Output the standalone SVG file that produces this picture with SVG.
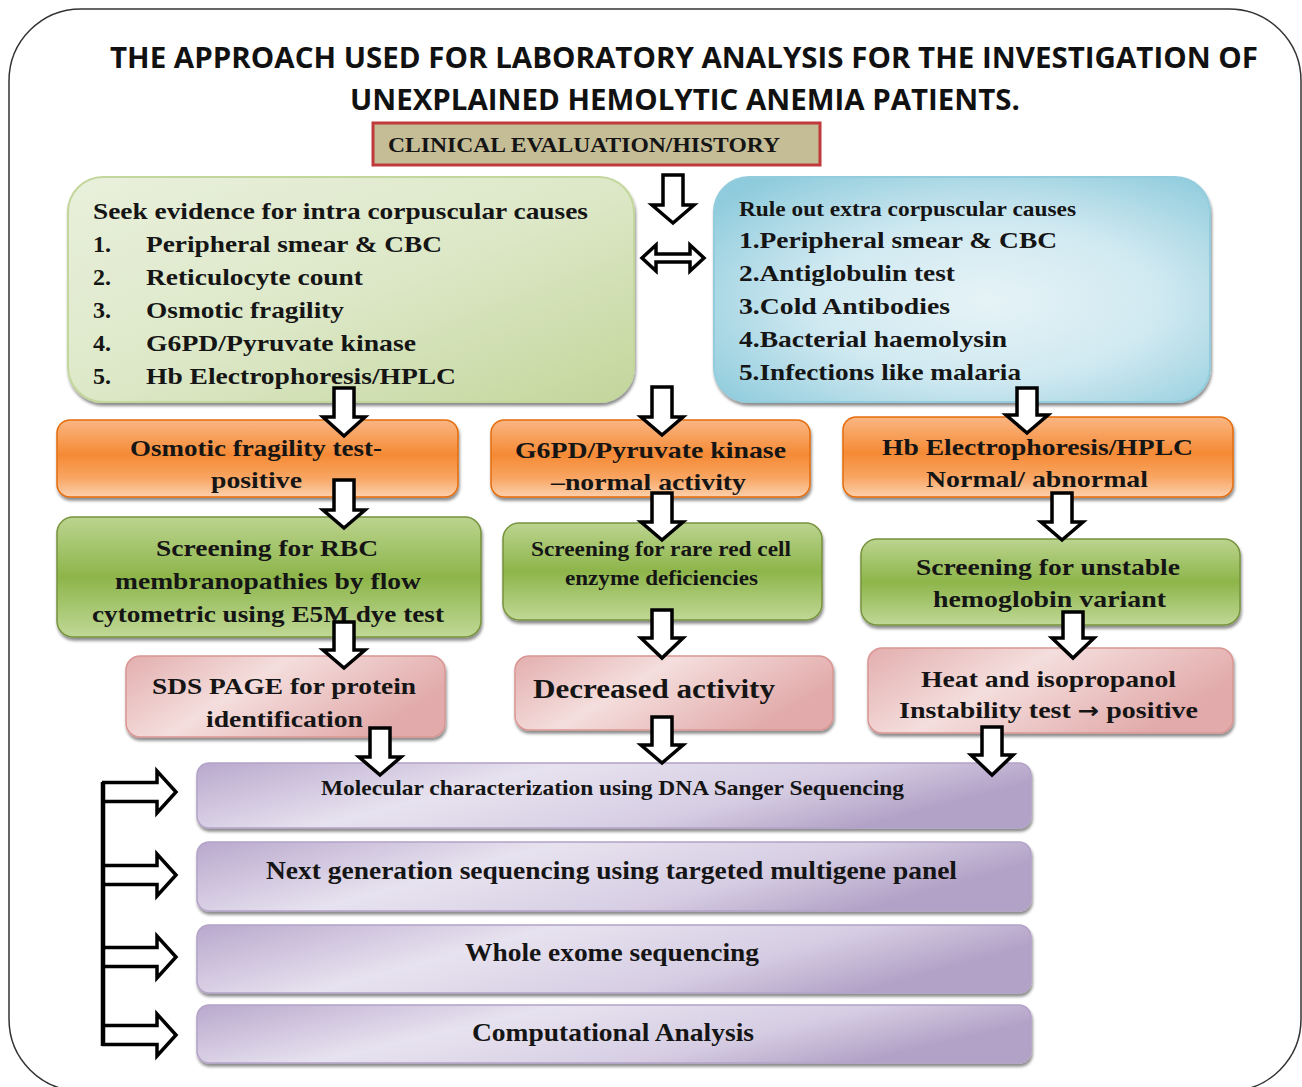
<svg xmlns="http://www.w3.org/2000/svg" width="1302" height="1087" viewBox="0 0 1302 1087">
<defs>
<style>
.t{font-family:"Liberation Serif","Times New Roman",serif;font-weight:bold;fill:#151515}
.ti{font-family:"Open Sans","Liberation Sans",Arial,sans-serif;font-weight:bold;fill:#111;font-size:28px}
.sym{font-family:"DejaVu Sans",sans-serif;font-weight:bold}
.arr{fill:#fff;stroke:#000;stroke-width:3.5;stroke-linejoin:miter}
.rarr{fill:#fff;stroke:#000;stroke-width:3.5}
.orange{fill:url(#gOrange);stroke:#e46c0a;stroke-width:1.5}
.green{fill:url(#gGreen);stroke:#77933c;stroke-width:1.5}
.pink{fill:url(#gPink);stroke:#d99694;stroke-width:1.5}
.purple{fill:url(#gPurple);stroke:#b3a2c7;stroke-width:1.5}
</style>
<filter id="sh" x="-10%" y="-10%" width="120%" height="130%">
<feDropShadow dx="1" dy="3" stdDeviation="1.5" flood-color="#000" flood-opacity="0.45"/>
</filter>
<linearGradient id="gLG" x1="0" y1="0" x2="1" y2="1">
<stop offset="0" stop-color="#e9f0dc"/><stop offset="0.5" stop-color="#dde8c8"/><stop offset="1" stop-color="#c3d69b"/>
</linearGradient>
<radialGradient id="gBlue" cx="0.55" cy="0.55" r="0.7">
<stop offset="0" stop-color="#e6f3f7"/><stop offset="0.5" stop-color="#d0e9f1"/><stop offset="1" stop-color="#8ecbdc"/>
</radialGradient>
<linearGradient id="gOrange" x1="0" y1="0" x2="0" y2="1">
<stop offset="0" stop-color="#fab683"/><stop offset="0.45" stop-color="#f58a35"/><stop offset="0.75" stop-color="#f8a562"/><stop offset="1" stop-color="#fcd0ad"/>
</linearGradient>
<linearGradient id="gGreen" x1="0" y1="0" x2="0" y2="1">
<stop offset="0" stop-color="#bcd48f"/><stop offset="0.5" stop-color="#8db54a"/><stop offset="1" stop-color="#c0d896"/>
</linearGradient>
<linearGradient id="gPink" x1="0" y1="0" x2="1" y2="0.4">
<stop offset="0" stop-color="#e3aeae"/><stop offset="0.45" stop-color="#f4dedd"/><stop offset="1" stop-color="#e2aaaa"/>
</linearGradient>
<linearGradient id="gPurple" x1="0" y1="0" x2="1" y2="0.3">
<stop offset="0" stop-color="#b9a8cd"/><stop offset="0.4" stop-color="#e7e2ef"/><stop offset="0.75" stop-color="#d6cde3"/><stop offset="1" stop-color="#b3a2c7"/>
</linearGradient>
</defs>
<rect x="0" y="0" width="1302" height="1087" fill="#fff"/>
<rect id="frame" x="9" y="9" width="1292" height="1082" rx="72" ry="72" fill="none" stroke="#333" stroke-width="1.5"/>

<g id="title">
<text class="ti" x="110" y="68" textLength="1148" lengthAdjust="spacingAndGlyphs">THE APPROACH USED FOR LABORATORY ANALYSIS FOR THE INVESTIGATION OF</text>
<text class="ti" x="350" y="110" textLength="670" lengthAdjust="spacingAndGlyphs">UNEXPLAINED HEMOLYTIC ANEMIA PATIENTS.</text>
</g>

<g id="clinical">
<rect x="373" y="123" width="447" height="42" fill="#c5bd96" stroke="#c0393b" stroke-width="3"/>
<text class="t" x="388" y="152" font-size="20" textLength="392" lengthAdjust="spacingAndGlyphs">CLINICAL EVALUATION/HISTORY</text>
</g>

<g id="intra">
<rect x="68" y="177" width="566" height="225" rx="35" fill="url(#gLG)" stroke="#c3d69b" stroke-width="2" filter="url(#sh)"/>
<text class="t" font-size="23" x="93" y="219" textLength="495" lengthAdjust="spacingAndGlyphs">Seek evidence for intra corpuscular causes</text>
<text class="t" font-size="24"><tspan x="93" y="252">1.</tspan><tspan x="93" y="285">2.</tspan><tspan x="93" y="318">3.</tspan><tspan x="93" y="351">4.</tspan><tspan x="93" y="384">5.</tspan></text>
<text class="t" font-size="24" x="146" y="252" textLength="296" lengthAdjust="spacingAndGlyphs">Peripheral smear &amp; CBC</text>
<text class="t" font-size="24" x="146" y="285" textLength="217" lengthAdjust="spacingAndGlyphs">Reticulocyte count</text>
<text class="t" font-size="24" x="146" y="318" textLength="198" lengthAdjust="spacingAndGlyphs">Osmotic fragility</text>
<text class="t" font-size="24" x="146" y="351" textLength="270" lengthAdjust="spacingAndGlyphs">G6PD/Pyruvate kinase</text>
<text class="t" font-size="24" x="146" y="384" textLength="310" lengthAdjust="spacingAndGlyphs">Hb Electrophoresis/HPLC</text>
</g>

<g id="extra">
<rect x="714" y="177" width="496" height="225" rx="35" fill="url(#gBlue)" stroke="#93cddd" stroke-width="2" filter="url(#sh)"/>
<text class="t" font-size="21" x="739" y="216" textLength="337" lengthAdjust="spacingAndGlyphs">Rule out extra corpuscular causes</text>
<text class="t" font-size="24" x="739" y="248" textLength="318" lengthAdjust="spacingAndGlyphs">1.Peripheral smear &amp; CBC</text>
<text class="t" font-size="24" x="739" y="281" textLength="216" lengthAdjust="spacingAndGlyphs">2.Antiglobulin test</text>
<text class="t" font-size="24" x="739" y="314" textLength="211" lengthAdjust="spacingAndGlyphs">3.Cold Antibodies</text>
<text class="t" font-size="24" x="739" y="347" textLength="268" lengthAdjust="spacingAndGlyphs">4.Bacterial haemolysin</text>
<text class="t" font-size="24" x="739" y="380" textLength="282" lengthAdjust="spacingAndGlyphs">5.Infections like malaria</text>
</g>

<g id="osmotic">
<rect class="orange" x="57" y="420" width="401" height="77" rx="13" filter="url(#sh)"/>
<text class="t" font-size="24" x="130" y="456" textLength="252" lengthAdjust="spacingAndGlyphs">Osmotic fragility test-</text>
<text class="t" font-size="24" x="211" y="488" textLength="91" lengthAdjust="spacingAndGlyphs">positive</text>
</g>
<g id="g6pd">
<rect class="orange" x="491" y="420" width="319" height="77" rx="13" filter="url(#sh)"/>
<text class="t" font-size="24" x="515" y="458" textLength="271" lengthAdjust="spacingAndGlyphs">G6PD/Pyruvate kinase</text>
<text class="t" font-size="24" x="551" y="490" textLength="195" lengthAdjust="spacingAndGlyphs">–normal activity</text>
</g>
<g id="hb">
<rect class="orange" x="843" y="417" width="390" height="80" rx="13" filter="url(#sh)"/>
<text class="t" font-size="24" x="882" y="455" textLength="311" lengthAdjust="spacingAndGlyphs">Hb Electrophoresis/HPLC</text>
<text class="t" font-size="24" x="926" y="487" textLength="222" lengthAdjust="spacingAndGlyphs">Normal/ abnormal</text>
</g>

<g id="rbc">
<rect class="green" x="57" y="517" width="424" height="120" rx="16" filter="url(#sh)"/>
<text class="t" font-size="24" x="156" y="556" textLength="222" lengthAdjust="spacingAndGlyphs">Screening for RBC</text>
<text class="t" font-size="24" x="115" y="589" textLength="306" lengthAdjust="spacingAndGlyphs">membranopathies by flow</text>
<text class="t" font-size="24" x="92" y="622" textLength="352" lengthAdjust="spacingAndGlyphs">cytometric using E5M dye test</text>
</g>
<g id="rare">
<rect class="green" x="503" y="523" width="319" height="97" rx="16" filter="url(#sh)"/>
<text class="t" font-size="20" x="531" y="556" textLength="260" lengthAdjust="spacingAndGlyphs">Screening for rare red cell</text>
<text class="t" font-size="20" x="565" y="585" textLength="193" lengthAdjust="spacingAndGlyphs">enzyme deficiencies</text>
</g>
<g id="unstable">
<rect class="green" x="861" y="539" width="379" height="86" rx="16" filter="url(#sh)"/>
<text class="t" font-size="24" x="916" y="575" textLength="264" lengthAdjust="spacingAndGlyphs">Screening for unstable</text>
<text class="t" font-size="24" x="933" y="607" textLength="233" lengthAdjust="spacingAndGlyphs">hemoglobin variant</text>
</g>

<g id="sds">
<rect class="pink" x="126" y="656" width="319" height="81" rx="14" filter="url(#sh)"/>
<text class="t" font-size="24" x="152" y="694" textLength="264" lengthAdjust="spacingAndGlyphs">SDS PAGE for protein</text>
<text class="t" font-size="24" x="206" y="727" textLength="157" lengthAdjust="spacingAndGlyphs">identification</text>
</g>
<g id="decreased">
<rect class="pink" x="515" y="656" width="318" height="74" rx="14" filter="url(#sh)"/>
<text class="t" font-size="28" x="533" y="698" textLength="242" lengthAdjust="spacingAndGlyphs">Decreased  activity</text>
</g>
<g id="heat">
<rect class="pink" x="868" y="648" width="365" height="85" rx="14" filter="url(#sh)"/>
<text class="t" font-size="24" x="921" y="687" textLength="255" lengthAdjust="spacingAndGlyphs">Heat and isopropanol</text>
<text class="t" font-size="24" x="899" y="718" textLength="299" lengthAdjust="spacingAndGlyphs">Instability test <tspan class="sym" font-size="22">→</tspan> positive</text>
</g>

<g id="sanger">
<rect class="purple" x="197" y="763" width="834" height="65" rx="12" filter="url(#sh)"/>
<text class="t" font-size="21" x="321" y="795" textLength="583" lengthAdjust="spacingAndGlyphs">Molecular characterization  using DNA Sanger Sequencing</text>
</g>
<g id="ngs">
<rect class="purple" x="197" y="842" width="834" height="69" rx="12" filter="url(#sh)"/>
<text class="t" font-size="25" x="266" y="879" textLength="691" lengthAdjust="spacingAndGlyphs">Next generation sequencing using targeted multigene panel</text>
</g>
<g id="wes">
<rect class="purple" x="197" y="925" width="834" height="68" rx="12" filter="url(#sh)"/>
<text class="t" font-size="25" x="465" y="961" textLength="294" lengthAdjust="spacingAndGlyphs">Whole exome sequencing</text>
</g>
<g id="comp">
<rect class="purple" x="197" y="1005" width="834" height="58" rx="12" filter="url(#sh)"/>
<text class="t" font-size="25" x="472" y="1041" textLength="282" lengthAdjust="spacingAndGlyphs">Computational Analysis</text>
</g>

<g id="connectors">
<path class="arr" d="M663,175 H683 V205 H694 L673,223 L652,205 H663 Z"/>
<path class="arr" d="M642,258 L656,245 V254 H690 V245 L704,258 L690,271 V262 H656 V271 Z"/>
<path class="arr" d="M334,388 H354 V417 H365 L344,436 L323,417 H334 Z"/>
<path class="arr" d="M652,387 H672 V417 H683 L662,435 L641,417 H652 Z"/>
<path class="arr" d="M1017,388 H1037 V415 H1048 L1027,433 L1006,415 H1017 Z"/>
<path class="arr" d="M334,480 H354 V510 H365 L344,528 L323,510 H334 Z"/>
<path class="arr" d="M334,622 H354 V650 H365 L344,668 L323,650 H334 Z"/>
<path class="arr" d="M370,728 H390 V757 H401 L380,775 L359,757 H370 Z"/>
<path class="arr" d="M652,493 H672 V522 H683 L662,540 L641,522 H652 Z"/>
<path class="arr" d="M652,610 H672 V638 H683 L662,658 L641,638 H652 Z"/>
<path class="arr" d="M652,717 H672 V745 H683 L662,763 L641,745 H652 Z"/>
<path class="arr" d="M1052,493 H1072 V522 H1083 L1062,540 L1041,522 H1052 Z"/>
<path class="arr" d="M1063,612 H1083 V638 H1094 L1073,658 L1052,638 H1063 Z"/>
<path class="arr" d="M982,727 H1002 V755 H1013 L992,775 L971,755 H982 Z"/>
<path class="rarr" d="M102,782.5 H157 V771 L176,792 L157,813 V801.5 H102"/>
<path class="rarr" d="M102,865.5 H157 V854 L176,875 L157,896 V884.5 H102"/>
<path class="rarr" d="M102,947.5 H157 V936 L176,957 L157,978 V966.5 H102"/>
<path class="rarr" d="M102,1025.5 H157 V1014 L176,1035 L157,1056 V1044.5 H102"/>
<line x1="103" y1="782" x2="103" y2="1046" stroke="#000" stroke-width="4.5"/>
</g>
</svg>
